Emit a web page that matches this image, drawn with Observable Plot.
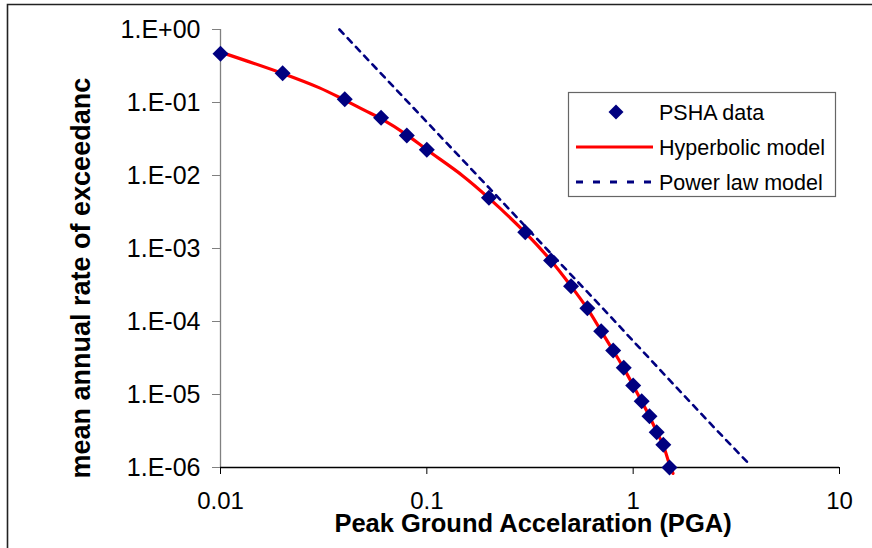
<!DOCTYPE html>
<html>
<head>
<meta charset="utf-8">
<script src="https://cdn.jsdelivr.net/npm/d3@7"></script>
<script src="https://cdn.jsdelivr.net/npm/@observablehq/plot@0.6"></script>
<style>
  html, body { margin: 0; padding: 0; background: #fff; }
  #chart { position: relative; width: 872px; height: 548px; overflow: hidden; }
</style>
</head>
<body>
<div id="chart"></div>
<script>
// ---- data ----
const pshaX = [0.01, 0.02, 0.04, 0.06, 0.08, 0.1, 0.2, 0.3, 0.4, 0.5, 0.6, 0.7, 0.8, 0.9, 1.0, 1.1, 1.2, 1.3, 1.4, 1.5];
const pshaY = [0.465, 0.252, 0.111, 0.0617, 0.0353, 0.0225, 0.00495, 0.00167, 6.85e-4, 3.05e-4, 1.52e-4, 7.36e-5, 4.0e-5, 2.32e-5, 1.33e-5, 8.1e-6, 5.04e-6, 3.05e-6, 2.05e-6, 1.0e-6];

const hyperX = [0.01, 0.02, 0.03, 0.04, 0.05, 0.06, 0.08, 0.1, 0.15, 0.2, 0.3, 0.4, 0.5, 0.6, 0.7, 0.8, 0.9, 1.0, 1.1, 1.2, 1.3, 1.4, 1.5, 1.56];
const hyperY = [0.49, 0.25, 0.16, 0.108, 0.078, 0.060, 0.036, 0.0225, 0.0098, 0.0049, 0.00165, 6.8e-4, 3.05e-4, 1.5e-4, 7.4e-5, 4.0e-5, 2.3e-5, 1.33e-5, 8.0e-6, 5.0e-6, 3.1e-6, 2.0e-6, 1.1e-6, 8.3e-7];

const powerX = [0.0377, 0.1, 0.2, 0.4, 0.7, 1.0, 1.6, 2.5, 3.7];
const powerY = [1.0, 0.054, 0.0068, 8.5e-4, 1.6e-4, 5.4e-5, 1.3e-5, 3.4e-6, 1.07e-6];

const xTickValues = [0.01, 0.1, 1, 10];
const xTickLabels = ["0.01", "0.1", "1", "10"];
const yTickValues = [1, 1e-1, 1e-2, 1e-3, 1e-4, 1e-5, 1e-6];
const yTickLabels = ["1.E+00", "1.E-01", "1.E-02", "1.E-03", "1.E-04", "1.E-05", "1.E-06"];

const seriesNames = ["PSHA data", "Hyperbolic model", "Power law model"];
const xTitle = "Peak Ground Accelaration (PGA)";
const yTitle = "mean annual rate of exceedance";

// ---- tables ----
const psha = pshaX.map((x, i) => ({x, y: pshaY[i]}));
const hyper = hyperX.map((x, i) => ({x, y: hyperY[i]}));
const power = powerX.map((x, i) => ({x, y: powerY[i]}));

const NAVY = "#000080", RED = "#ff0000";
const FONT = "'Liberation Sans', Arial, Helvetica, sans-serif";
const HALF = 8; // half-diagonal of the diamond marker

// square rotated 45° (Excel diamond), half-diagonal = sqrt(size)
const diamond = {
  draw(context, size) {
    const h = Math.sqrt(size);
    context.moveTo(0, -h); context.lineTo(h, 0); context.lineTo(0, h); context.lineTo(-h, 0); context.closePath();
  }
};

const chart = Plot.plot({
  width: 872,
  height: 548,
  marginLeft: 220,
  marginRight: 33,
  marginTop: 29,
  marginBottom: 81,
  style: {fontFamily: FONT, background: "#fff", overflow: "visible", color: "#000"},
  x: {type: "log", domain: [0.01, 10]},
  y: {type: "log", domain: [1e-6, 1]},
  marks: [
    Plot.axisY({ticks: yTickValues, tickFormat: d => yTickLabels[yTickValues.indexOf(d)],
      tickSize: 8, tickPadding: 12, fontSize: 25, stroke: "#808080", fill: "#000", label: null}),
    Plot.axisX({ticks: xTickValues, tickFormat: d => xTickLabels[xTickValues.indexOf(d)],
      tickSize: 7, tickPadding: 17, fontSize: 24, stroke: "#000", fill: "#000", label: null}),
    Plot.ruleX([0.01], {stroke: "#808080", strokeWidth: 1.3}),
    Plot.ruleY([1e-6], {stroke: "#000", strokeWidth: 1.3}),
    Plot.line(power, {x: "x", y: "y", stroke: NAVY, strokeWidth: 2.6, strokeDasharray: "6,6"}),
    Plot.line(hyper, {x: "x", y: "y", stroke: RED, strokeWidth: 3.2, curve: "catmull-rom"}),
    Plot.dot(psha, {x: "x", y: "y", symbol: diamond, r: HALF / Math.sqrt(Math.PI), fill: NAVY, stroke: "none"}),
    Plot.text([xTitle], {frameAnchor: "bottom", text: d => d, dx: 3, dy: 64.5,
      fontSize: 25.5, fontWeight: "bold", fill: "#000"}),
    Plot.text([yTitle], {frameAnchor: "left", text: d => d, rotate: -90, textAnchor: "start",
      dx: -139.5, dy: 230, fontSize: 27, fontWeight: "bold", fill: "#000"})
  ]
});

document.getElementById("chart").appendChild(chart);

// ---- decorations: outer frame, clipped y title, legend ----
const svg = d3.select(chart);
const defs = svg.append("defs");
defs.append("clipPath").attr("id", "ytitle-clip")
  .append("rect").attr("x", 0).attr("y", 77).attr("width", 872).attr("height", 471);

const yText = svg.selectAll("text").filter(function() { return this.textContent === yTitle; });
if (!yText.empty()) {
  const g = yText.node().parentNode;
  const wrap = svg.append("g").attr("clip-path", "url(#ytitle-clip)");
  wrap.node().appendChild(g);
}

svg.append("path").attr("d", "M7.5,548 V4.5 H872")
  .attr("fill", "none").attr("stroke", "#222").attr("stroke-width", 1.6);

// legend
const lg = svg.append("g").attr("font-family", FONT).attr("text-anchor", "start");
lg.append("rect").attr("x", 568.5).attr("y", 92.5).attr("width", 267).attr("height", 104)
  .attr("fill", "#fff").attr("stroke", "#666").attr("stroke-width", 1.2);
const rows = [112, 147, 182];
lg.append("path").attr("transform", `translate(616,${rows[0]})`)
  .attr("d", d3.symbol(diamond, 7.5 * 7.5)()).attr("fill", NAVY);
lg.append("line").attr("x1", 576).attr("x2", 653).attr("y1", rows[1]).attr("y2", rows[1])
  .attr("stroke", RED).attr("stroke-width", 3);
lg.append("line").attr("x1", 576).attr("x2", 653).attr("y1", rows[2]).attr("y2", rows[2])
  .attr("stroke", NAVY).attr("stroke-width", 3.2).attr("stroke-dasharray", "7,10");
seriesNames.forEach((name, i) => {
  lg.append("text").attr("x", 659).attr("y", rows[i]).attr("dy", "0.35em")
    .attr("text-anchor", "start").attr("font-size", 21.5).attr("fill", "#000").text(name);
});
</script>
</body>
</html>
